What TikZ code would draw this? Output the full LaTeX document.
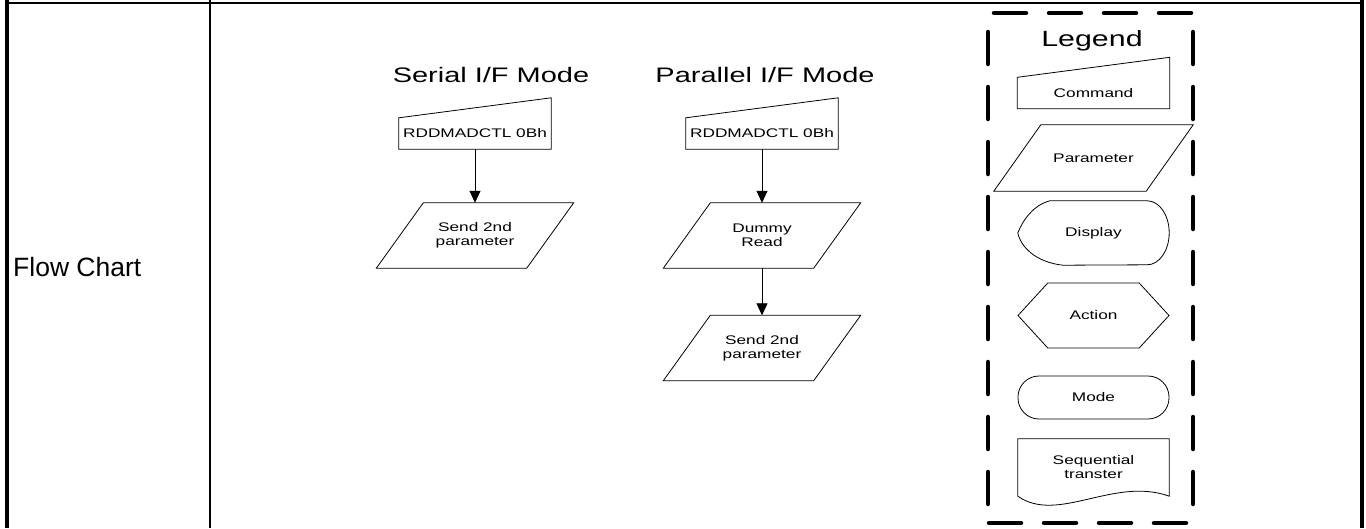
\documentclass[tikz,border=0pt]{standalone}
\usepackage{fontspec}
\setmainfont{Liberation Sans}
\newfontfamily\chartfont{Liberation Sans}[FakeStretch=1.38]
\usetikzlibrary{arrows.meta,shapes.symbols}
\tikzstyle{rule} = [line width=2pt]
\tikzstyle{border} = [line width=4.5pt]
\tikzstyle{outline} = [draw, line width=0.8pt]
\tikzstyle{lbl} = [font=\chartfont\fontsize{12.5pt}{14pt}\selectfont,
  align=center, inner sep=0pt]
\tikzstyle{title} = [font=\chartfont\fontsize{21pt}{24pt}\selectfont,
  anchor=base, inner sep=0pt]
\tikzstyle{cmd} = [lbl, minimum width=152pt, minimum height=31pt,
  append after command={\pgfextra{\draw[outline] (\tikzlastnode.south west)
    -- (\tikzlastnode.south east) -- ([yshift=20pt]\tikzlastnode.north east)
    -- (\tikzlastnode.north west) -- cycle;}}]
\tikzstyle{param} = [lbl, minimum width=150pt, minimum height=65pt,
  append after command={\pgfextra{\draw[outline]
    ([xshift=-23.5pt]\tikzlastnode.south west)
    -- ([xshift=-23.5pt]\tikzlastnode.south east)
    -- ([xshift=23.5pt]\tikzlastnode.north east)
    -- ([xshift=23.5pt]\tikzlastnode.north west) -- cycle;}}]
\tikzstyle{action} = [lbl, outline, signal, signal to=west and east,
  signal pointer angle=95, minimum width=151pt, minimum height=65pt]
\tikzstyle{stadium} = [lbl, outline, rounded corners=21pt,
  minimum width=151pt, minimum height=43pt]
\tikzstyle{diredge} = [line width=0.8pt, -{Triangle[length=12pt,width=11pt]}]
\tikzstyle{legendline} = [line width=4.5pt, line cap=round,
  dash pattern=on 32pt off 23pt]

\begin{document}
\begin{tikzpicture}[x=1pt, y=-1pt]
    \useasboundingbox (0,0) rectangle (1366,528);
    % table frame
    \draw[rule] (5,3) -- (1362,3);
    \draw[border] (7,0) -- (7,528);
    \draw[rule] (210,0) -- (210,528);
    \draw[border] (1362,0) -- (1362,528);
    \node[anchor=west, inner sep=0pt, font=\fontsize{26.5pt}{30pt}\selectfont]
        (rowlabel) at (13,267) {Flow Chart};

    % serial interface
    \node[title] (sertitle) at (491,82.5) {Serial I/F Mode};
    \node[cmd] (cmdS) at (475,133.5) {RDDMADCTL 0Bh};
    \node[param] (sendS) at (475,235.5) {Send 2nd\\parameter};
    \draw[diredge] (cmdS) -- (sendS);

    % parallel interface
    \node[title] (partitle) at (765,82.5) {Parallel I/F Mode};
    \node[cmd] (cmdP) at (762,133.5) {RDDMADCTL 0Bh};
    \node[param] (dummyP) at (762,235.5) {Dummy\\Read};
    \node[param] (sendP) at (762,348) {Send 2nd\\parameter};
    \draw[diredge] (cmdP) -- (dummyP);
    \draw[diredge] (dummyP) -- (sendP);

    % legend
    \draw[legendline] (994,13) -- (1193,13);
    \draw[legendline] (988,32) -- (988,523);
    \draw[legendline] (1193,32) -- (1193,523);
    \draw[legendline] (989,523) -- (1193,523);
    \node[title, font=\chartfont\fontsize{22pt}{26pt}\selectfont]
        (legtitle) at (1092,46) {Legend};
    \node[cmd] (cmdL) at (1093.5,93) {Command};
    \node[param, minimum width=152pt, minimum height=66pt] (paramL) at (1093.5,158) {Parameter};
    \node[lbl, minimum width=151pt, minimum height=64pt] (dispL) at (1093.5,233) {Display};
    \draw[outline] ([xshift=32pt]dispL.north west) -- ([xshift=-22pt]dispL.north east)
        arc[start angle=90, end angle=-90, x radius=22pt, y radius=32pt]
        -- ([xshift=45pt]dispL.south west)
        .. controls ([xshift=18pt,yshift=3pt]dispL.south west)
        and ([xshift=3pt,yshift=-14pt]dispL.west) .. (dispL.west)
        .. controls ([xshift=5pt,yshift=13pt]dispL.west)
        and ([xshift=16pt,yshift=-4pt]dispL.north west) .. ([xshift=32pt]dispL.north west)
        -- cycle;
    \node[action] (actL) at (1093.5,315.5) {Action};
    \node[stadium] (modeL) at (1093.5,397.5) {Mode};
    \node[lbl, minimum width=151pt, minimum height=57pt] (seqL) at (1093.5,467.5)
        {Sequential\\transter};
    \draw[outline] (seqL.south west) -- (seqL.north west) -- (seqL.north east)
        -- (seqL.south east)
        .. controls ([xshift=-55pt,yshift=20pt]seqL.south east)
        and ([xshift=40pt,yshift=-28pt]seqL.south west) .. (seqL.south west);
\end{tikzpicture}
\end{document}
